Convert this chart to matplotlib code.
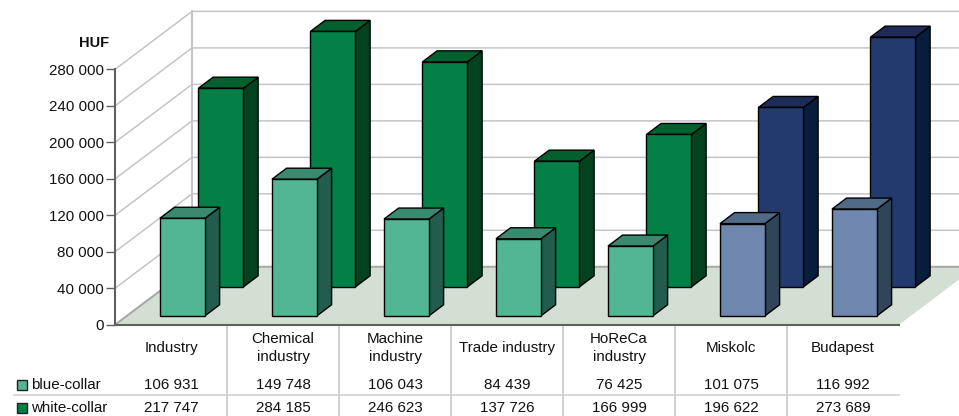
import matplotlib
matplotlib.use("Agg")
import matplotlib.pyplot as plt
from matplotlib.patches import Polygon, Rectangle

categories = ["Industry", "Chemical\nindustry", "Machine\nindustry", "Trade industry",
              "HoReCa\nindustry", "Miskolc", "Budapest"]
blue_collar = [106931, 149748, 106043, 84439, 76425, 101075, 116992]
white_collar = [217747, 284185, 246623, 137726, 166999, 196622, 273689]
y_ticks = [0, 40000, 80000, 120000, 160000, 200000, 240000, 280000]

# face colours: front, top, side
GREEN_LIGHT = ("#52b593", "#3a8a70", "#235c4c")
GREEN_DARK = ("#028046", "#02602f", "#01431f")
BLUE_LIGHT = ("#6f86ae", "#506a88", "#314559")
BLUE_DARK = ("#223a6e", "#1e2a58", "#081c3c")
GRID = "#c4c5c9"
YMAX = 280000

plt.rcParams["font.family"] = ["Liberation Sans", "DejaVu Sans"]

W, H = 959, 416
fig = plt.figure(figsize=(W / 100, H / 100), dpi=100)
ax = fig.add_axes([115 / W, (H - 324.8) / H, 784 / W, 255.4 / H])
ax.set_xlim(0, len(categories))
ax.set_ylim(0, YMAX)

X_PX = 784 / len(categories)
Y_PX = 255.4 / YMAX
DX = 77 / X_PX  # full depth of the box in data units
DY = 58 / Y_PX


def pt(x, y, d=0.0):
    return (x + d * DX, y + d * DY)


def below(px):
    return -px / Y_PX


def draw_bar(x, value, d0, d1, colors, width=45 / X_PX):
    value = min(value, YMAX)  # the axis cuts the tallest bar off
    front = [pt(x, 0, d0), pt(x + width, 0, d0), pt(x + width, value, d0), pt(x, value, d0)]
    top = [pt(x, value, d0), pt(x + width, value, d0), pt(x + width, value, d1), pt(x, value, d1)]
    side = [pt(x + width, 0, d0), pt(x + width, 0, d1), pt(x + width, value, d1), pt(x + width, value, d0)]
    for poly, col in zip((side, top, front), (colors[2], colors[1], colors[0])):
        ax.add_patch(Polygon(poly, closed=True, fc=col, ec="black", lw=1.0, clip_on=False, zorder=5,
                             joinstyle="miter"))


n = len(categories)
x_right = n + (W - 115 - 77 - 784 + 80) / X_PX  # back wall runs off the canvas

# walls and gridlines
for v in y_ticks[1:]:
    ax.plot(*zip(pt(0, v), pt(0, v, 1), pt(x_right, v, 1)), color=GRID, lw=1.1, clip_on=False, zorder=1)
ax.plot(*zip(pt(0, 0, 1), pt(0, YMAX, 1)), color=GRID, lw=1.5, clip_on=False, zorder=1)

# floor
floor = [pt(0, 0), pt(n, 0), pt(n, 0, 1), pt(0, 0, 1)]
ax.add_patch(Polygon(floor, closed=True, fc="#d4dfd3", ec="none", clip_on=False, zorder=2))
ax.plot(*zip(pt(0, 0), pt(0, 0, 1), pt(x_right, 0, 1)), color="#a8aaa8", lw=1.5, clip_on=False, zorder=2)

# bars, back row first
for i in range(n):
    draw_bar(i + 0.295, white_collar[i], 0.655, 0.845, BLUE_DARK if i >= 5 else GREEN_DARK)
for i in range(n):
    draw_bar(i + 0.295, blue_collar[i], 0.155, 0.345, BLUE_LIGHT if i >= 5 else GREEN_LIGHT)

# axis
for s in ("top", "right"):
    ax.spines[s].set_visible(False)
for s in ("left", "bottom"):
    ax.spines[s].set_color("#606060")
    ax.spines[s].set_linewidth(1.5)
    ax.spines[s].set_zorder(6)
ax.patch.set_visible(False)
ax.set_xticks([])
ax.set_yticks(y_ticks)
ax.set_yticklabels([f"{v:,}".replace(",", " ") for v in y_ticks], fontsize=10.9, color="#111111",
                   va="center_baseline")
ax.tick_params(axis="y", length=6.5, width=1.0, color="#606060", pad=1.5)
ax.text(-6 / X_PX, YMAX + 28 / Y_PX, "HUF", fontsize=10.5, fontweight="bold",
        ha="right", va="center_baseline", color="#111111")

# data table
ROW1, ROW2 = 60, 83
for i in range(n):
    ax.text(i + 0.5, below(23.5), categories[i], ha="center", va="center", fontsize=10.9,
            color="#111111", linespacing=1.4, clip_on=False)
    ax.text(i + 0.5, below(ROW1), f"{blue_collar[i]:,}".replace(",", " "), ha="center", va="center",
            fontsize=10.9, color="#111111")
    ax.text(i + 0.5, below(ROW2), f"{white_collar[i]:,}".replace(",", " "), ha="center", va="center",
            fontsize=10.9, color="#111111")
for i in range(1, n):
    ax.plot([i, i], [0, below(92)], color="#c8c8c8", lw=1.2, clip_on=False, zorder=1)
ax.plot([-101 / X_PX, n], [below(70), below(70)], color="#d0d0d0", lw=1.2, clip_on=False, zorder=1)

# legend keys in the table
for row, label, col in ((ROW1, "blue-collar", GREEN_LIGHT[0]), (ROW2, "white-collar", GREEN_DARK[0])):
    ax.add_patch(Rectangle((-98 / X_PX, below(row + 5)), 10 / X_PX, 10 / Y_PX, fc=col, ec="#222222",
                           lw=1.0, clip_on=False))
    ax.text(-84 / X_PX, below(row + 0.5), label, ha="left", va="center", fontsize=10.9, color="#111111")

fig.savefig("out.png", dpi=100, facecolor="white")
